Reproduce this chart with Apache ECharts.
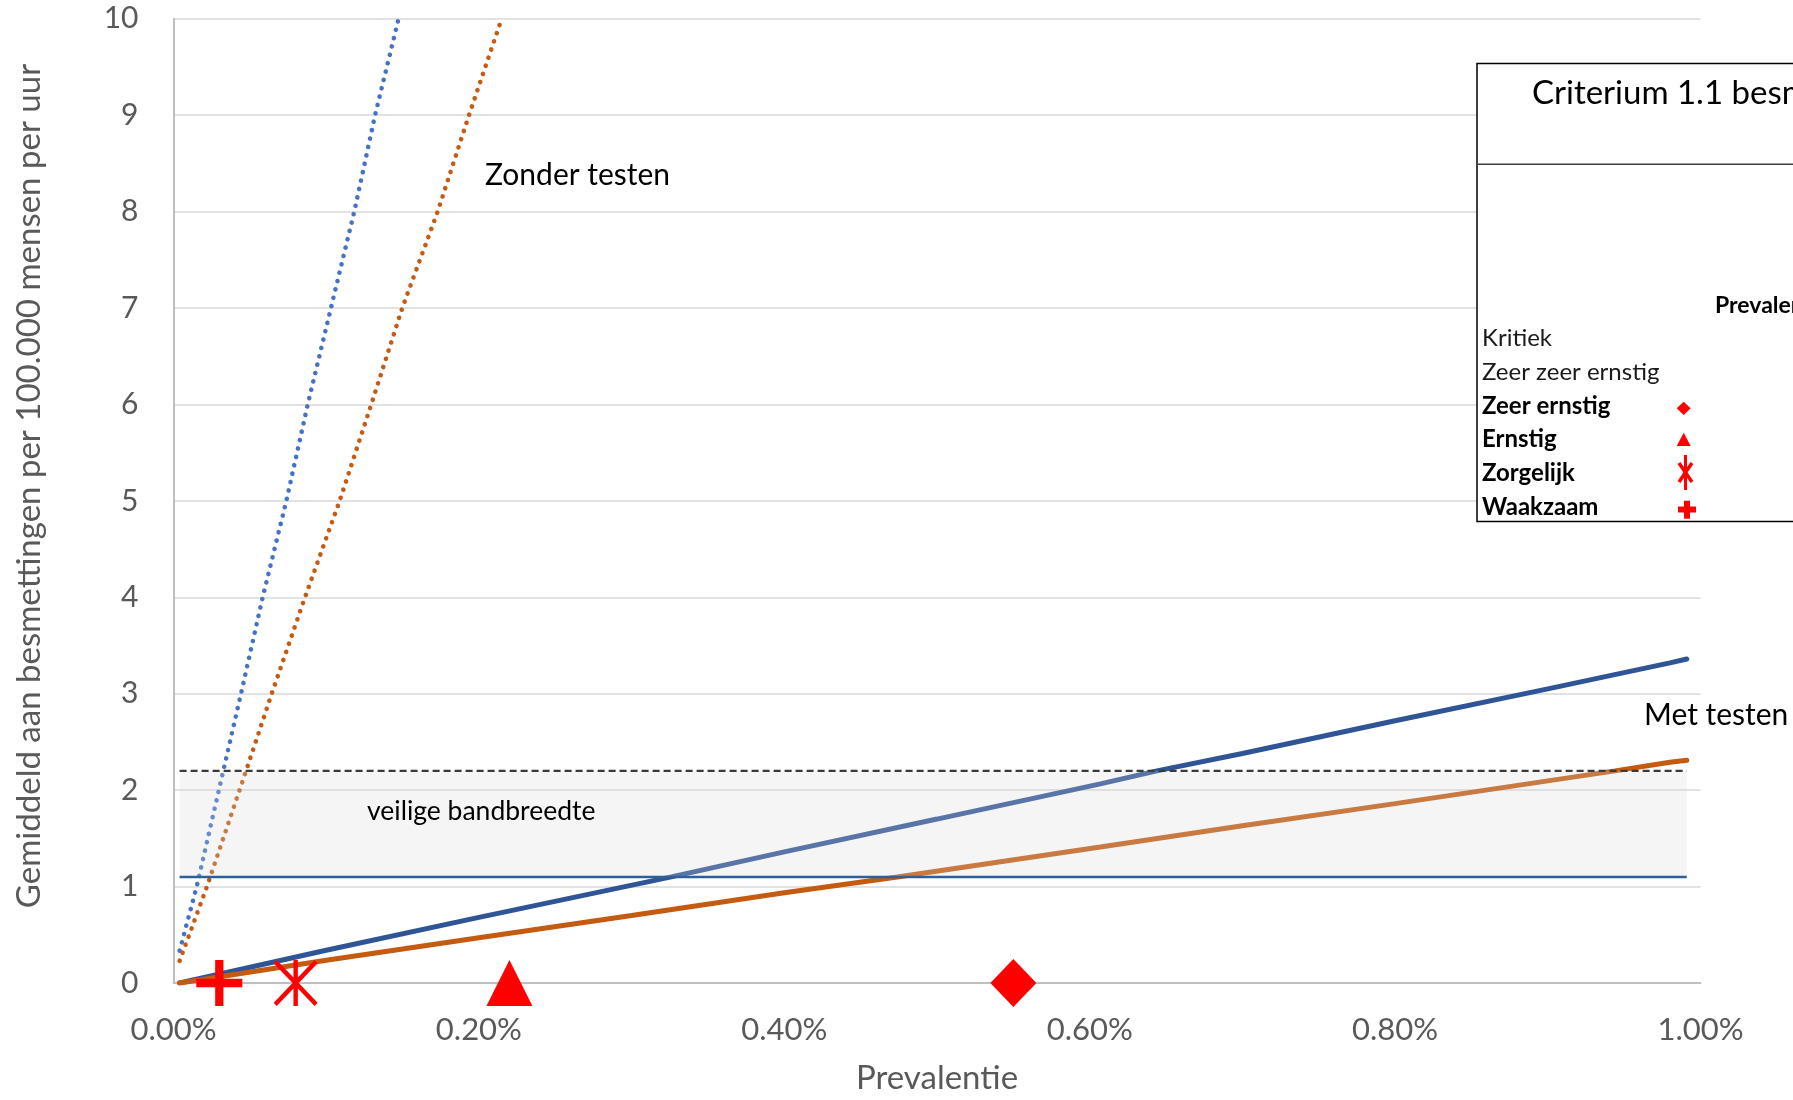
<!DOCTYPE html>
<html>
<head>
<meta charset="utf-8">
<script src="https://cdn.jsdelivr.net/npm/echarts@6/dist/echarts.min.js"></script>
<style>
html,body{margin:0;padding:0;background:#fff;}
#c{width:1793px;height:1100px;}
</style>
</head>
<body>
<div id="c"></div>
<script>
// ---- data (x in %, y = besmettingen per 100.000 per uur) ----
const xTicks = [0, 0.2, 0.4, 0.6, 0.8, 1.0];
const yTicks = [0,1,2,3,4,5,6,7,8,9,10];

const metTestenBlauw = [[0.004,0],[0.1,0.34],[0.2,0.68],[0.326,1.1],[0.4,1.36],[0.5,1.7],[0.607,2.065],[0.644,2.2],[0.7,2.38],[0.8,2.72],[0.9,3.05],[0.98,3.32],[0.991,3.36]];
const metTestenOranje = [[0.004,0],[0.1,0.235],[0.2,0.47],[0.3,0.7],[0.4,0.935],[0.474,1.1],[0.607,1.41],[0.7,1.63],[0.8,1.86],[0.944,2.2],[0.98,2.29],[0.991,2.31]];
const zonderTestenBlauw = [[0.004,0.335],[0.0152,1],[0.0326,2.2],[0.0442,3],[0.0584,4],[0.0739,5],[0.0879,6],[0.1031,7],[0.1184,8],[0.132,9],[0.1474,10]];
const zonderTestenOranje = [[0.004,0.23],[0.0219,1],[0.0475,2.2],[0.0643,3],[0.0861,4],[0.1088,5],[0.1295,6],[0.1498,7],[0.173,8],[0.1935,9],[0.2149,10]];

const bandOnder = 1.1;
const bandBoven = 2.2;
const bandX = [0.004, 0.991];

const niveaus = ['Waakzaam','Zorgelijk','Ernstig','Zeer ernstig'];
const niveauPrevalentie = [0.03, 0.08, 0.22, 0.55];

const legendaRijen = ['Kritiek','Zeer zeer ernstig','Zeer ernstig','Ernstig','Zorgelijk','Waakzaam'];
const legendaVet = [false,false,true,true,true,true];

// ---- symbols ----
const plusPath = 'path://M41,0 L59,0 L59,41 L100,41 L100,59 L59,59 L59,100 L41,100 L41,59 L0,59 L0,41 L41,41 Z';
const asteriskPath = 'path://M45,0 L55,0 L55,100 L45,100 Z M7,0 L100,93 L93,100 L0,7 Z M93,0 L100,7 L7,100 L0,93 Z';
const markerSymbols = [plusPath, asteriskPath, 'triangle', 'diamond'];
const markerSizes = [[46,46],[44,46],[46,46],[46,48]];

const FONT = 'Lato, "Open Sans", sans-serif';
const chart = echarts.init(document.getElementById('c'));

const series = [
  {name:'Met testen (blauw)', type:'line', data:metTestenBlauw, showSymbol:false, symbol:'none', z:2,
   lineStyle:{color:'#2f5597', width:5, cap:'round'}},
  {name:'Met testen (oranje)', type:'line', data:metTestenOranje, showSymbol:false, symbol:'none', z:2,
   lineStyle:{color:'#c55a11', width:5, cap:'round'}},
  {name:'Zonder testen (blauw)', type:'line', data:zonderTestenBlauw, showSymbol:false, symbol:'none', z:2,
   lineStyle:{color:'#4472c4', width:4.6, type:[0.1,8.5], cap:'round'}},
  {name:'Zonder testen (oranje)', type:'line', data:zonderTestenOranje, showSymbol:false, symbol:'none', z:2,
   lineStyle:{color:'#c55a11', width:4.6, type:[0.1,8.5], cap:'round'}},
  {name:'Veilige bandbreedte', type:'line', data:[[bandX[0],bandBoven],[bandX[1],bandBoven]], showSymbol:false, symbol:'none', z:3,
   lineStyle:{color:'#3a3a3a', width:2.2, type:[7,4]},
   areaStyle:{origin:bandOnder, color:'rgba(214,214,214,0.36)'}},
  {name:'Criterium', type:'line', data:[[bandX[0],bandOnder],[bandX[1],bandOnder]], showSymbol:false, symbol:'none', z:4,
   lineStyle:{color:'#2e5f97', width:2.5}}
];
niveaus.forEach((n,i)=>{
  series.push({name:n, type:'scatter', data:[[niveauPrevalentie[i],0]], symbol:markerSymbols[i], symbolSize:markerSizes[i],
    itemStyle:{color:'#ff0000', opacity:1}, z:6, clip:false});
});

// legend box graphics
const g = [];
g.push({type:'rect', z:100, shape:{x:1477, y:63.5, width:400, height:458}, style:{fill:'#fff', stroke:'#000', lineWidth:1.5}});
g.push({type:'line', z:101, shape:{x1:1477, y1:164.3, x2:1900, y2:164.3}, style:{stroke:'#404040', lineWidth:1.5}});
g.push({type:'text', z:102, x:1532, y:93, style:{text:'Criterium 1.1 besmettingen', font:'33px '+FONT, fill:'#000', verticalAlign:'middle'}});
g.push({type:'text', z:102, x:1715, y:306, style:{text:'Prevalentie', font:'bold 23px '+FONT, fill:'#000', verticalAlign:'middle'}});
const rijY = [338, 372.5, 406.5, 439.5, 473, 507];
legendaRijen.forEach((t,i)=>{
  g.push({type:'text', z:102, x:1482, y:rijY[i], style:{text:t, font:(legendaVet[i]?'bold ':'')+'24px '+FONT, fill: legendaVet[i]?'#000':'#1a1a1a', verticalAlign:'middle'}});
});
// legend symbols
g.push({type:'polygon', z:102, shape:{points:[[1683.7,401.7],[1690.7,408.3],[1683.7,415],[1676.7,408.3]]}, style:{fill:'#ff0000'}});
g.push({type:'polygon', z:102, shape:{points:[[1683.7,432.7],[1690.7,446],[1676.7,446]]}, style:{fill:'#ff0000'}});
g.push({type:'line', z:102, shape:{x1:1685.5,y1:455,x2:1685.5,y2:490}, style:{stroke:'#ff0000', lineWidth:3}});
g.push({type:'line', z:102, shape:{x1:1679,y1:463,x2:1692,y2:482}, style:{stroke:'#ff0000', lineWidth:3.5}});
g.push({type:'line', z:102, shape:{x1:1692,y1:463,x2:1679,y2:482}, style:{stroke:'#ff0000', lineWidth:3.5}});
g.push({type:'rect', z:102, shape:{x:1678, y:506.5, width:18, height:6}, style:{fill:'#ff0000'}});
g.push({type:'rect', z:102, shape:{x:1684, y:500.7, width:6, height:18}, style:{fill:'#ff0000'}});
// annotations
g.push({type:'text', z:50, x:485, y:175, style:{text:'Zonder testen', font:'30px '+FONT, fill:'#000', verticalAlign:'middle'}});
g.push({type:'text', z:50, x:1644, y:715, style:{text:'Met testen', font:'30px '+FONT, fill:'#000', verticalAlign:'middle'}});
g.push({type:'text', z:50, x:367, y:811, style:{text:'veilige bandbreedte', font:'26.5px '+FONT, fill:'#000', verticalAlign:'middle'}});
// y-axis title
g.push({type:'text', z:50, x:29, y:486, rotation:Math.PI/2,
  style:{text:'Gemiddeld aan besmettingen per 100.000 mensen per uur', font:'33px '+FONT, fill:'#595959', align:'center', verticalAlign:'middle'}});

chart.setOption({
  animation:false,
  backgroundColor:'#fff',
  grid:{left:173.5, right:92.5, top:18.7, bottom:114.3, containLabel:false},
  xAxis:{type:'value', min:xTicks[0], max:xTicks[xTicks.length-1], interval:0.2,
    name:'Prevalentie', nameLocation:'middle', nameGap:79,
    nameTextStyle:{fontFamily:FONT, fontSize:33, color:'#595959'},
    axisLine:{show:true, onZero:false, lineStyle:{color:'#bfbfbf', width:2}},
    axisTick:{show:false},
    splitLine:{show:false},
    axisLabel:{margin:31, fontFamily:FONT, fontSize:31, color:'#595959', formatter:v=>v.toFixed(2)+'%'}},
  yAxis:{type:'value', min:yTicks[0], max:yTicks[yTicks.length-1], interval:1,
    axisLine:{show:true, lineStyle:{color:'#bfbfbf', width:2}},
    axisTick:{show:false},
    splitLine:{show:true, lineStyle:{color:'#d9d9d9', width:1.5}},
    axisLabel:{margin:35, fontFamily:FONT, fontSize:30, color:'#595959'}},
  series:series,
  graphic:g
});
</script>
</body>
</html>
